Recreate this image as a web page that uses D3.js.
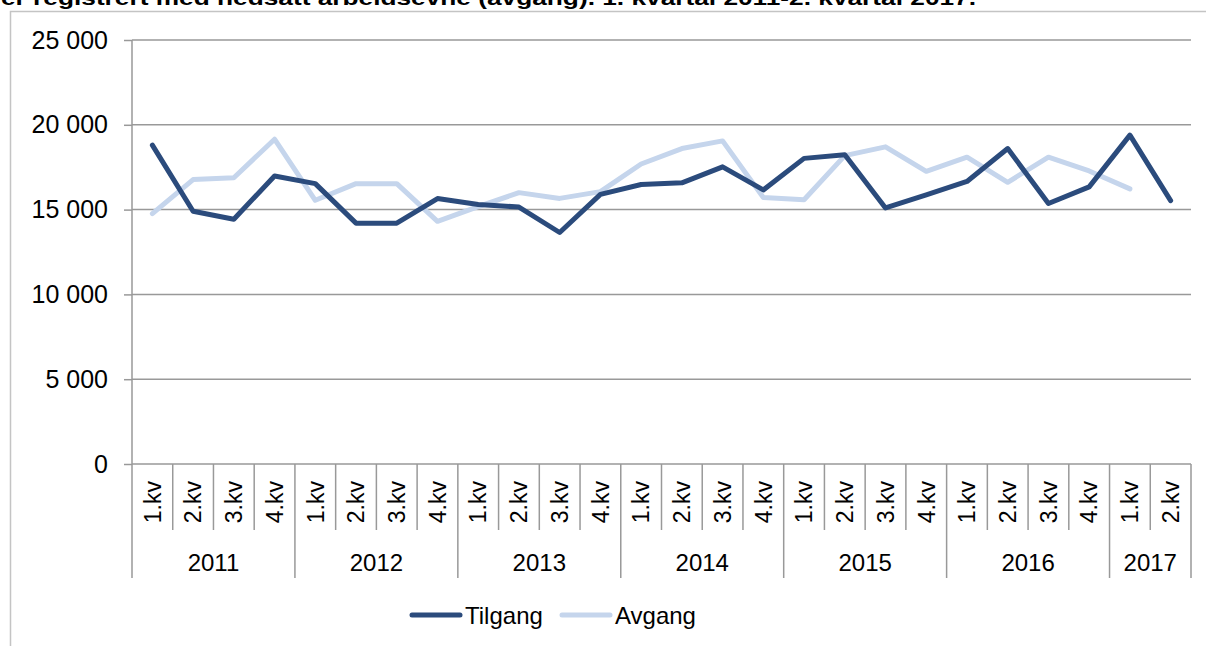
<!DOCTYPE html>
<html>
<head>
<meta charset="utf-8">
<script src="https://cdn.jsdelivr.net/npm/d3@7"></script>
<style>
  body { margin: 0; background: #fff; }
  svg { display: block; font-family: "Liberation Sans", Arial, sans-serif; }
</style>
</head>
<body>
<script>
const width = 1206
const height = 646

// data
const years = ['2011', '2012', '2013', '2014', '2015', '2016', '2017']
const quarters = ['1.kv', '2.kv', '3.kv', '4.kv']
const periods = [
  '2011-1', '2011-2', '2011-3', '2011-4',
  '2012-1', '2012-2', '2012-3', '2012-4',
  '2013-1', '2013-2', '2013-3', '2013-4',
  '2014-1', '2014-2', '2014-3', '2014-4',
  '2015-1', '2015-2', '2015-3', '2015-4',
  '2016-1', '2016-2', '2016-3', '2016-4',
  '2017-1', '2017-2'
]
const tilgang = [18800, 14900, 14430, 16980, 16530, 14200, 14200, 15650, 15300, 15150, 13650, 15900,
  16480, 16580, 17520, 16160, 18020, 18240, 15100, 15870, 16660, 18600, 15360, 16340, 19390, 15530]
const avgang = [14760, 16770, 16880, 19150, 15550, 16530, 16530, 14310, 15170, 16000, 15660, 16060,
  17690, 18600, 19050, 15710, 15580, 18180, 18700, 17260, 18090, 16610, 18090, 17280, 16220]
const yTicks = [0, 5000, 10000, 15000, 20000, 25000]

const dark = '#2b4b7c'
const light = '#c5d5ec'
const gridColor = '#999999'
const fontSize = '24px'

const svg = d3.select('body')
  .append('svg')
  .attr('width', width)
  .attr('height', height)

// title (clipped at the top, as in the source)
svg.append('text')
  .text('er registrert med nedsatt arbeidsevne (avgang). 1. kvartal 2011-2. kvartal 2017.')
  .attr('x', 1)
  .attr('y', 5)
  .attr('font-size', '20px')
  .attr('font-weight', 'bold')
  .attr('textLength', 975)
  .attr('lengthAdjust', 'spacingAndGlyphs')

// chart frame
svg.append('rect')
  .attr('x', 10.5)
  .attr('y', 11.5)
  .attr('width', 1210)
  .attr('height', 650)
  .attr('fill', 'none')
  .attr('stroke', '#c4c4c4')
  .attr('stroke-width', 1.5)

// scales
const xScale = d3.scaleBand()
  .domain(periods)
  .range([132, 1191])

const yScale = d3.scaleLinear()
  .domain([0, 25000])
  .range([464, 40])

const locale = d3.formatLocale({ decimal: ',', thousands: ' ', grouping: [3], currency: ['', ''] })
const fmt = locale.format(',')

// y axis + gridlines
const yAxis = d3.axisLeft(yScale)
  .tickValues(yTicks)
  .tickFormat(fmt)
  .tickSize(8)
  .tickPadding(16)

const yg = svg.append('g')
  .attr('transform', 'translate(132,0)')
  .call(yAxis)
yg.select('.domain').remove()
yg.selectAll('.tick line').attr('stroke', gridColor).attr('stroke-width', 1.5)
yg.selectAll('.tick text')
  .attr('font-size', '25px')
  .attr('font-family', '"Liberation Sans", Arial, sans-serif')
  .attr('fill', '#000')

svg.append('g')
  .selectAll('line')
  .data(yTicks)
  .join('line')
  .attr('x1', 132)
  .attr('x2', 1191)
  .attr('y1', d => yScale(d))
  .attr('y2', d => yScale(d))
  .attr('stroke', gridColor)
  .attr('stroke-width', 1.5)

// vertical axis line, continues down through the category table
svg.append('line')
  .attr('x1', 132).attr('x2', 132)
  .attr('y1', 40).attr('y2', 578)
  .attr('stroke', gridColor)
  .attr('stroke-width', 1.5)

// category separators
const bw = xScale.bandwidth()
const xg = svg.append('g')
xg.selectAll('line')
  .data(periods.slice(1).concat(['end']))
  .join('line')
  .attr('x1', (d, i) => xScale(periods[0]) + bw * (i + 1))
  .attr('x2', (d, i) => xScale(periods[0]) + bw * (i + 1))
  .attr('y1', 464)
  .attr('y2', (d, i) => (i + 1) % 4 === 0 || i === periods.length - 1 ? 578 : 530)
  .attr('stroke', gridColor)
  .attr('stroke-width', 1.5)

// quarter labels
xg.selectAll('.q')
  .data(periods)
  .join('text')
  .attr('class', 'q')
  .attr('transform', d => 'translate(' + (xScale(d) + bw / 2) + ',481) rotate(-90)')
  .attr('text-anchor', 'end')
  .attr('dy', '0.36em')
  .attr('font-size', '23px')
  .text(d => quarters[+d.split('-')[1] - 1])

// year labels
xg.selectAll('.y')
  .data(years)
  .join('text')
  .attr('class', 'y')
  .attr('x', d => {
    const ps = periods.filter(p => p.startsWith(d))
    return (xScale(ps[0]) + xScale(ps[ps.length - 1]) + bw) / 2
  })
  .attr('y', 571)
  .attr('text-anchor', 'middle')
  .attr('font-size', fontSize)
  .text(d => d)

// lines
const line = d3.line()
  .x((d, i) => xScale(periods[i]) + bw / 2)
  .y(d => yScale(d))

svg.append('path')
  .datum(avgang)
  .attr('d', line)
  .attr('fill', 'none')
  .attr('stroke', light)
  .attr('stroke-width', 5)
  .attr('stroke-linecap', 'round')
  .attr('stroke-linejoin', 'round')

svg.append('path')
  .datum(tilgang)
  .attr('d', line)
  .attr('fill', 'none')
  .attr('stroke', dark)
  .attr('stroke-width', 5)
  .attr('stroke-linecap', 'round')
  .attr('stroke-linejoin', 'round')

// legend
const legendItems = [
  { name: 'Tilgang', color: dark, x: 412 },
  { name: 'Avgang', color: light, x: 562 }
]
const legend = svg.append('g')
legend.selectAll('line')
  .data(legendItems)
  .join('line')
  .attr('x1', d => d.x)
  .attr('x2', d => d.x + 48)
  .attr('y1', 615)
  .attr('y2', 615)
  .attr('stroke', d => d.color)
  .attr('stroke-width', 5)
  .attr('stroke-linecap', 'round')
legend.selectAll('text')
  .data(legendItems)
  .join('text')
  .attr('x', d => d.x + 53)
  .attr('y', 624)
  .attr('font-size', fontSize)
  .text(d => d.name)
</script>
</body>
</html>
